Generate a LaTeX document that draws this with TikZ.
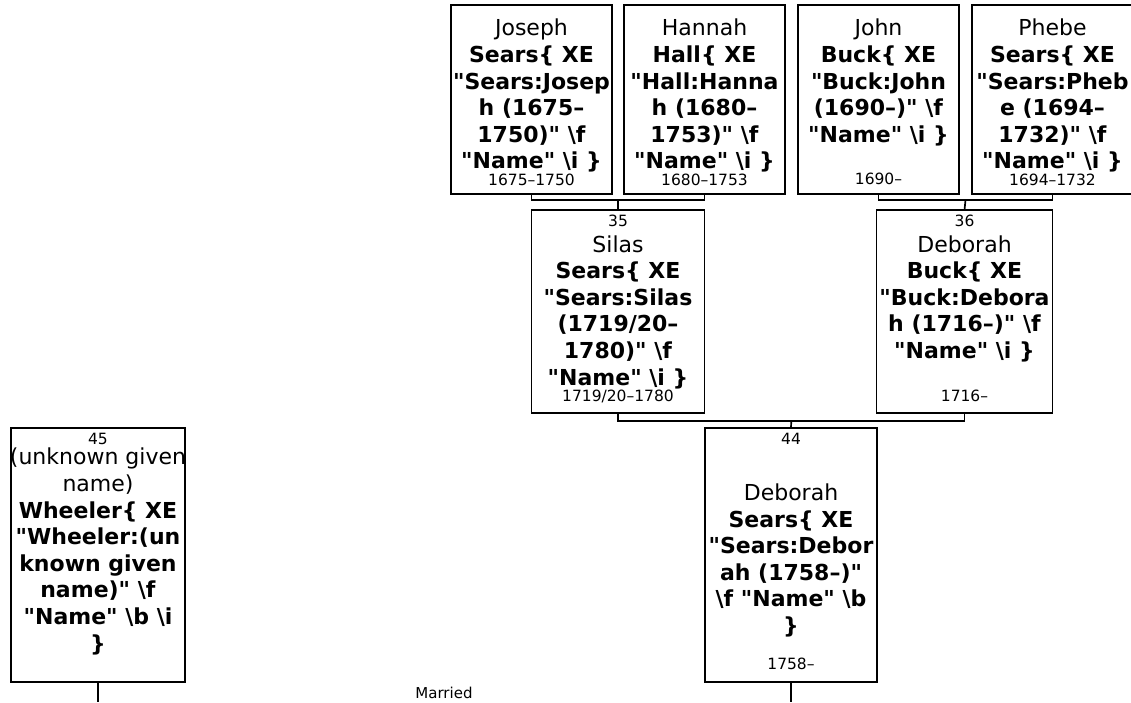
\documentclass[tikz,border=0pt]{standalone}
\usepackage{fontspec}
\newfontfamily\treefont{DejaVu Sans}
\usetikzlibrary{positioning}
\newcommand{\bsl}{\textbackslash}

\begin{document}
\begin{tikzpicture}[x=1pt,y=-1pt,line width=1.7pt,
  box/.style={draw,outer sep=0pt,inner sep=0pt},
  toprow/.style={box,minimum width=161pt,minimum height=189pt},
  midrow/.style={box,minimum height=203pt},
  lowrow/.style={box,minimum height=254pt},
  num/.style={anchor=base,inner sep=0pt,yshift=-16.5pt,font=\treefont\fontsize{15.5}{18}\selectfont},
  entry/.style={anchor=north,align=center,inner sep=0pt,yshift=-#1,font=\treefont\fontsize{22}{26.6}\selectfont},
  years/.style={anchor=base,inner sep=0pt,yshift=#1,font=\treefont\fontsize{15.5}{18}\selectfont}]

  \useasboundingbox (0,0) rectangle (1131,702);

  % grandparents
  \node[toprow,
    label={[entry=13.3pt]north:{Joseph\\\textbf{Sears\{ XE}\\\textbf{"Sears:Josep}\\\textbf{h (1675–}\\\textbf{1750)" \bsl f}\\\textbf{"Name" \bsl i \}}}},
    label={[years=9pt]south:1675–1750}] (joseph) at (531.5,99.5) {};
  \node[toprow,right=12pt of joseph,
    label={[entry=13.3pt]north:{Hannah\\\textbf{Hall\{ XE}\\\textbf{"Hall:Hanna}\\\textbf{h (1680–}\\\textbf{1753)" \bsl f}\\\textbf{"Name" \bsl i \}}}},
    label={[years=9pt]south:1680–1753}] (hannah) {};
  \node[toprow,right=13pt of hannah,
    label={[entry=13.3pt]north:{John\\\textbf{Buck\{ XE}\\\textbf{"Buck:John}\\\textbf{(1690–)" \bsl f}\\\textbf{"Name" \bsl i \}}}},
    label={[years=10pt]south:1690–}] (john) {};
  \node[toprow,right=13pt of john,
    label={[entry=13.3pt]north:{Phebe\\\textbf{Sears\{ XE}\\\textbf{"Sears:Pheb}\\\textbf{e (1694–}\\\textbf{1732)" \bsl f}\\\textbf{"Name" \bsl i \}}}},
    label={[years=9pt]south:1694–1732}] (phebe) {};

  % parents
  \node[midrow,minimum width=173pt,
    label={[num]north:35},
    label={[entry=24.5pt]north:{Silas\\\textbf{Sears\{ XE}\\\textbf{"Sears:Silas}\\\textbf{(1719/20–}\\\textbf{1780)" \bsl f}\\\textbf{"Name" \bsl i \}}}},
    label={[years=11.5pt]south:1719/20–1780}] (silas) at (618,311.5) {};
  \node[midrow,minimum width=176pt,
    label={[num]north:36},
    label={[entry=24.5pt]north:{Deborah\\\textbf{Buck\{ XE}\\\textbf{"Buck:Debora}\\\textbf{h (1716–)" \bsl f}\\\textbf{"Name" \bsl i \}}}},
    label={[years=11.5pt]south:1716–}] (debbuck) at (964.5,311.5) {};

  % couple
  \node[lowrow,minimum width=172pt,
    label={[num]north:44},
    label={[entry=55pt]north:{Deborah\\\textbf{Sears\{ XE}\\\textbf{"Sears:Debor}\\\textbf{ah (1758–)"}\\\textbf{\bsl f "Name" \bsl b}\\\textbf{\}}}},
    label={[years=13pt]south:1758–}] (debsears) at (791,555) {};
  \node[lowrow,minimum width=174pt,
    label={[num]north:45},
    label={[entry=19.3pt]north:{(unknown given\\name)\\\textbf{Wheeler\{ XE}\\\textbf{"Wheeler:(un}\\\textbf{known given}\\\textbf{name)" \bsl f}\\\textbf{"Name" \bsl b \bsl i}\\\textbf{\}}}}] (wheeler) at (98,555) {};

  \node[anchor=base,inner sep=0pt,font=\treefont\fontsize{15}{18}\selectfont] (married) at (444,698) {Married};

  % family lines
  \draw (joseph.south) -- ++(0,6) -| coordinate[pos=.25] (jh) (hannah.south);
  \draw (jh) -- (silas.north);
  \draw (john.south) -- ++(0,6) -| coordinate[pos=.25] (jp) (phebe.south);
  \draw (jp) -- (debbuck.north);
  \draw (silas.south) -- ++(0,8) -| coordinate[pos=.25] (sd) (debbuck.south);
  \draw (sd) -- (debsears.north);
  \draw (debsears.south) -- ++(0,20);
  \draw (wheeler.south) -- ++(0,20);
\end{tikzpicture}
\end{document}
